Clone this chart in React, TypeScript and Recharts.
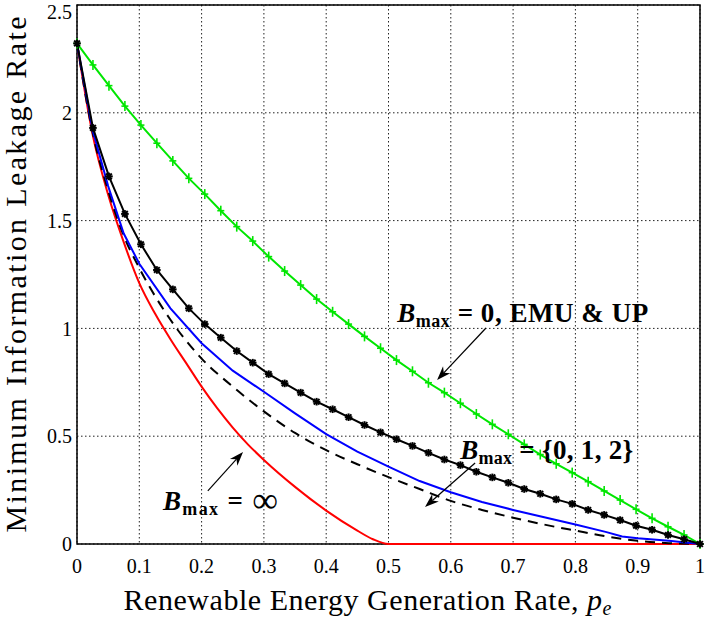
import React from 'react';
import {
  LineChart,
  Line,
  XAxis,
  YAxis,
  CartesianGrid,
  ReferenceArea,
  ReferenceLine,
  ReferenceDot,
} from 'recharts';

// sample points of the two marked curves (40 points from 0 to 1)
const P_GRID = [
  0, 0.0256, 0.0513, 0.0769, 0.1026, 0.1282, 0.1538, 0.1795, 0.2051, 0.2308,
  0.2564, 0.2821, 0.3077, 0.3333, 0.359, 0.3846, 0.4103, 0.4359, 0.4615, 0.4872,
  0.5128, 0.5385, 0.5641, 0.5897, 0.6154, 0.641, 0.6667, 0.6923, 0.7179, 0.7436,
  0.7692, 0.7949, 0.8205, 0.8462, 0.8718, 0.8974, 0.9231, 0.9487, 0.9744, 1,
];

// B_max = 0, EMU & UP (green, + markers)
const GREEN_EMU_UP = [
  2.322, 2.222, 2.126, 2.031, 1.943, 1.859, 1.777, 1.696, 1.623, 1.546,
  1.472, 1.405, 1.333, 1.266, 1.201, 1.136, 1.077, 1.02, 0.963, 0.908,
  0.853, 0.801, 0.748, 0.702, 0.653, 0.603, 0.555, 0.509, 0.462, 0.415,
  0.372, 0.331, 0.289, 0.246, 0.204, 0.161, 0.119, 0.08, 0.042, 0,
];

// black, * markers
const BLACK_MARKED = [
  2.322, 1.93, 1.705, 1.531, 1.39, 1.271, 1.181, 1.093, 1.02, 0.957,
  0.895, 0.841, 0.788, 0.745, 0.702, 0.66, 0.625, 0.588, 0.552, 0.518,
  0.486, 0.455, 0.423, 0.392, 0.366, 0.335, 0.309, 0.284, 0.255, 0.233,
  0.207, 0.186, 0.158, 0.135, 0.111, 0.085, 0.066, 0.042, 0.022, 0,
];

// B_max = infinity (red)
const P_RED = [0, 0.025, 0.05, 0.075, 0.1, 0.125, 0.15, 0.175, 0.2, 0.225, 0.25, 0.275, 0.3, 0.35, 0.4, 0.45, 0.475, 0.5, 1];
const RED_INF = [2.322, 1.9, 1.62, 1.4, 1.21, 1.07, 0.95, 0.84, 0.73, 0.63, 0.54, 0.46, 0.39, 0.265, 0.155, 0.062, 0.022, 0, 0];

// blue
const P_BLUE = [0, 0.025, 0.05, 0.075, 0.1, 0.15, 0.2, 0.25, 0.3, 0.35, 0.4, 0.45, 0.5, 0.55, 0.6, 0.65, 0.7, 0.75, 0.8, 0.85, 0.875, 0.9, 0.95, 1];
const BLUE_VALUES = [2.322, 1.92, 1.66, 1.44, 1.3, 1.093, 0.931, 0.804, 0.706, 0.606, 0.51, 0.428, 0.359, 0.292, 0.24, 0.195, 0.158, 0.124, 0.09, 0.055, 0.035, 0.027, 0.015, 0];

// dashed black
const P_DASH = [0, 0.025, 0.05, 0.075, 0.1, 0.15, 0.2, 0.25, 0.3, 0.35, 0.4, 0.45, 0.5, 0.55, 0.6, 0.65, 0.7, 0.75, 0.8, 0.85, 0.9, 0.95, 1];
const DASHED_VALUES = [2.322, 1.91, 1.64, 1.43, 1.28, 1.04, 0.86, 0.73, 0.615, 0.515, 0.435, 0.37, 0.31, 0.255, 0.2, 0.158, 0.122, 0.09, 0.062, 0.035, 0.015, 0.004, 0];

const X_TICKS = [0, 0.1, 0.2, 0.3, 0.4, 0.5, 0.6, 0.7, 0.8, 0.9, 1];
const Y_TICKS = [0, 0.5, 1, 1.5, 2, 2.5];

const FONT = '"Liberation Serif", "Times New Roman", serif';
const GREEN = '#00e600';

const rows = (xs: number[], ys: number[]) => xs.map((p, i) => ({ p, v: ys[i] }));

const PlusDot = (props: any) => {
  const { cx, cy, index } = props;
  return (
    <g key={`plus-${index}`} stroke={GREEN} strokeWidth={1.6}>
      <line x1={cx - 3.5} x2={cx + 3.5} y1={cy} y2={cy} />
      <line x1={cx} x2={cx} y1={cy - 5} y2={cy + 5} />
    </g>
  );
};

const StarDot = (props: any) => {
  const { cx, cy, index } = props;
  const r = 3.8;
  const d = r * 0.75;
  return (
    <g key={`star-${index}`} stroke="#000" strokeWidth={2}>
      <line x1={cx - r} x2={cx + r} y1={cy} y2={cy} />
      <line x1={cx} x2={cx} y1={cy - r} y2={cy + r} />
      <line x1={cx - d} x2={cx + d} y1={cy - d} y2={cy + d} />
      <line x1={cx - d} x2={cx + d} y1={cy + d} y2={cy - d} />
    </g>
  );
};

const Arrow = (props: any) => {
  const { x1, y1, x2, y2 } = props;
  const ang = Math.atan2(y2 - y1, x2 - x1);
  const c = Math.cos(ang);
  const s = Math.sin(ang);
  const L = 14;
  const W = 5;
  const bx = x2 - c * L;
  const by = y2 - s * L;
  const nx = x2 - c * L * 0.7;
  const ny = y2 - s * L * 0.7;
  const pts = `${x2},${y2} ${bx - s * W},${by + c * W} ${nx},${ny} ${bx + s * W},${by - c * W}`;
  return (
    <g>
      <line x1={x1} y1={y1} x2={nx} y2={ny} stroke="#000" strokeWidth={1.2} />
      <polygon points={pts} fill="#000" />
    </g>
  );
};

const BmaxLabel = ({ x, y, rest, width }: { x: number; y: number; rest: React.ReactNode; width: number }) => (
  <text
    x={x}
    y={y}
    fontFamily={FONT}
    fontSize={27}
    fontWeight="bold"
    fill="#000"
    textLength={width}
    lengthAdjust="spacing"
  >
    <tspan fontStyle="italic">B</tspan>
    <tspan fontSize={18} dy={5}>max</tspan>
    <tspan dy={-5}>{' = '}</tspan>
    {rest}
  </text>
);

const XTitle = (props: any) => {
  const { viewBox } = props;
  const cx = viewBox.x + viewBox.width / 2 - 21;
  return (
    <text
      x={cx}
      y={610}
      textAnchor="middle"
      fontFamily={FONT}
      fontSize={30}
      fill="#000"
      textLength={488}
      lengthAdjust="spacing"
    >
      Renewable Energy Generation Rate,{' '}
      <tspan fontStyle="italic">p</tspan>
      <tspan fontStyle="italic" fontSize={20} dy={5}>e</tspan>
    </text>
  );
};

const YTitle = (props: any) => {
  const { viewBox } = props;
  const cy = viewBox.y + viewBox.height / 2;
  return (
    <text
      x={26}
      y={cy}
      transform={`rotate(-90, 26, ${cy})`}
      textAnchor="middle"
      fontFamily={FONT}
      fontSize={30}
      fill="#000"
      textLength={516}
      lengthAdjust="spacing"
    >
      Minimum Information Leakage Rate
    </text>
  );
};

export default function App() {
  const tickStyle = { fontFamily: FONT, fontSize: 20, fill: '#000' };
  return (
    <div style={{ position: 'absolute', left: 0, top: 0, background: '#fff' }}>
      <LineChart width={706} height={618} margin={{ top: 5, right: 6, bottom: 0, left: 0 }}>
        <CartesianGrid stroke="#222" strokeDasharray="1.5 2.5" strokeWidth={1} />
        <XAxis
          dataKey="p"
          type="number"
          domain={[0, 1]}
          ticks={X_TICKS}
          allowDuplicatedCategory={false}
          axisLine={false}
          tickLine={false}
          tickSize={0}
          tickMargin={15}
          height={74}
          tick={tickStyle}
          label={{ content: XTitle }}
        />
        <YAxis
          type="number"
          domain={[0, 2.5]}
          ticks={Y_TICKS}
          axisLine={false}
          tickLine={false}
          tickSize={0}
          tickMargin={5}
          width={77}
          tick={tickStyle}
          label={{ content: YTitle }}
        />
        <Line
          data={rows(P_RED, RED_INF)}
          dataKey="v"
          type="monotone"
          stroke="#ff0000"
          strokeWidth={2}
          dot={false}
          isAnimationActive={false}
        />
        <Line
          data={rows(P_DASH, DASHED_VALUES)}
          dataKey="v"
          type="monotone"
          stroke="#000"
          strokeWidth={2}
          strokeDasharray="10 7"
          dot={false}
          isAnimationActive={false}
        />
        <Line
          data={rows(P_BLUE, BLUE_VALUES)}
          dataKey="v"
          type="linear"
          stroke="#0000ff"
          strokeWidth={2}
          dot={false}
          isAnimationActive={false}
        />
        <Line
          data={rows(P_GRID, GREEN_EMU_UP)}
          dataKey="v"
          type="linear"
          stroke={GREEN}
          strokeWidth={2}
          dot={PlusDot}
          isAnimationActive={false}
        />
        <Line
          data={rows(P_GRID, BLACK_MARKED)}
          dataKey="v"
          type="linear"
          stroke="#000"
          strokeWidth={2}
          dot={StarDot}
          isAnimationActive={false}
        />
        <ReferenceArea x1={0} x2={1} y1={0} y2={2.5} fill="none" fillOpacity={0} stroke="#000" strokeWidth={1.5} />
        <ReferenceLine segment={[{ x: 0.6565, y: 1.002 }, { x: 0.578, y: 0.761 }]} shape={Arrow} />
        <ReferenceLine segment={[{ x: 0.639, y: 0.376 }, { x: 0.5586, y: 0.172 }]} shape={Arrow} />
        <ReferenceLine segment={[{ x: 0.21, y: 0.246 }, { x: 0.2665, y: 0.427 }]} shape={Arrow} />
        <ReferenceDot
          x={0.514}
          y={1.03}
          r={1}
          shape={(p: any) => <BmaxLabel x={p.cx} y={p.cy} width={251} rest={<tspan>0, EMU &amp; UP</tspan>} />}
        />
        <ReferenceDot
          x={0.615}
          y={0.394}
          r={1}
          shape={(p: any) => <BmaxLabel x={p.cx} y={p.cy} width={173} rest={<tspan>{'{0, 1, 2}'}</tspan>} />}
        />
        <ReferenceDot
          x={0.138}
          y={0.158}
          r={1}
          shape={(p: any) => (
            <BmaxLabel
              x={p.cx}
              y={p.cy}
              width={115}
              rest={<tspan fontSize={36} fontWeight="normal" dy={2}>∞</tspan>}
            />
          )}
        />
      </LineChart>
    </div>
  );
}
